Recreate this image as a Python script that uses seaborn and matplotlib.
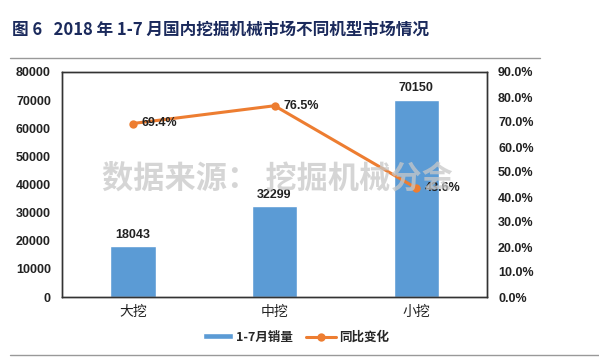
import matplotlib
matplotlib.use("Agg")
import matplotlib.pyplot as plt
import seaborn as sns
import pandas as pd
from matplotlib.ticker import FuncFormatter, MultipleLocator

# data
categories = ["大挖", "中挖", "小挖"]
sales = [18043, 32299, 70150]
yoy = [69.4, 76.5, 43.6]

sns.set_theme(style="white")
plt.rcParams['font.family'] = ['Noto Sans CJK SC', 'DejaVu Sans']

df = pd.DataFrame({"cat": categories, "sales": sales, "yoy": yoy})

fig = plt.figure(figsize=(5.99, 3.6), dpi=100)
ax = fig.add_axes([62 / 599, 1 - 297 / 360, 425 / 599, 225 / 360])

sns.barplot(data=df, x="cat", y="sales", color="#5B9BD5", width=0.32,
            saturation=1, ax=ax, label="1-7月销量")
ax.set_ylim(0, 80000)
ax.yaxis.set_major_locator(MultipleLocator(10000))
ax.set_xlabel("")
ax.set_ylabel("")
for i, v in enumerate(sales):
    ax.text(i, v + 2000, str(v), ha="center", va="bottom", fontsize=9,
            fontweight="bold", color="#222222", family="Liberation Sans")

ax2 = ax.twinx()
sns.lineplot(x=[0, 1, 2], y=yoy, color="#ED7D31", linewidth=2.2, marker="o",
             markersize=6, markeredgewidth=0, ax=ax2, label="同比变化")
ax2.set_ylim(0, 90)
ax2.yaxis.set_major_locator(MultipleLocator(10))
ax2.yaxis.set_major_formatter(FuncFormatter(lambda x, _: f"{x:.1f}%"))
for i, v in enumerate(yoy):
    ax2.text(i + 0.06, v, f"{v}%", ha="left", va="center", fontsize=9,
             fontweight="bold", color="#222222", family="Liberation Sans")
ax.set_xlim(-0.5, 2.5)

for a in (ax, ax2):
    for s in a.spines.values():
        s.set_color("#333333")
        s.set_linewidth(1)
    a.tick_params(axis="both", length=0, labelsize=9, colors="#222222", pad=8)
for lbl in ax.get_yticklabels() + ax2.get_yticklabels():
    lbl.set_fontweight("bold")
    lbl.set_family("Liberation Sans")
for lbl in ax.get_xticklabels():
    lbl.set_fontsize(10)
ax.tick_params(axis="x", pad=6)

# watermark
fig.text(277 / 599, 1 - 179 / 360, "数据来源： 挖掘机械分会", ha="center", va="center",
         fontsize=22.5, fontweight="bold", color="#c8c8c8", alpha=0.75, zorder=0)

# legend
h1, l1 = ax.get_legend_handles_labels()
h2, l2 = ax2.get_legend_handles_labels()
ax2.get_legend().remove()
if ax.get_legend():
    ax.get_legend().remove()
fig.legend(h1 + h2, l1 + l2, loc="center", bbox_to_anchor=(296 / 599, 1 - 337 / 360),
           ncol=2, frameon=False, handlelength=2.4, handleheight=0.45,
           handletextpad=0.3, columnspacing=1.0, prop={"weight": "bold", "size": 9})

# title and rules
fig.text(12 / 599, 1 - 30 / 360, "图 6   2018 年 1-7 月国内挖掘机械市场不同机型市场情况",
         ha="left", va="center", fontsize=12, fontweight="bold", color="#1B2A5C")
fig.add_artist(plt.Line2D([10 / 599, 540 / 599], [1 - 58 / 360, 1 - 58 / 360],
                          color="#999999", linewidth=1, transform=fig.transFigure))
fig.add_artist(plt.Line2D([10 / 599, 599 / 599], [1 - 355 / 360, 1 - 355 / 360],
                          color="#999999", linewidth=1, transform=fig.transFigure))

fig.savefig("out.png", dpi=100)
